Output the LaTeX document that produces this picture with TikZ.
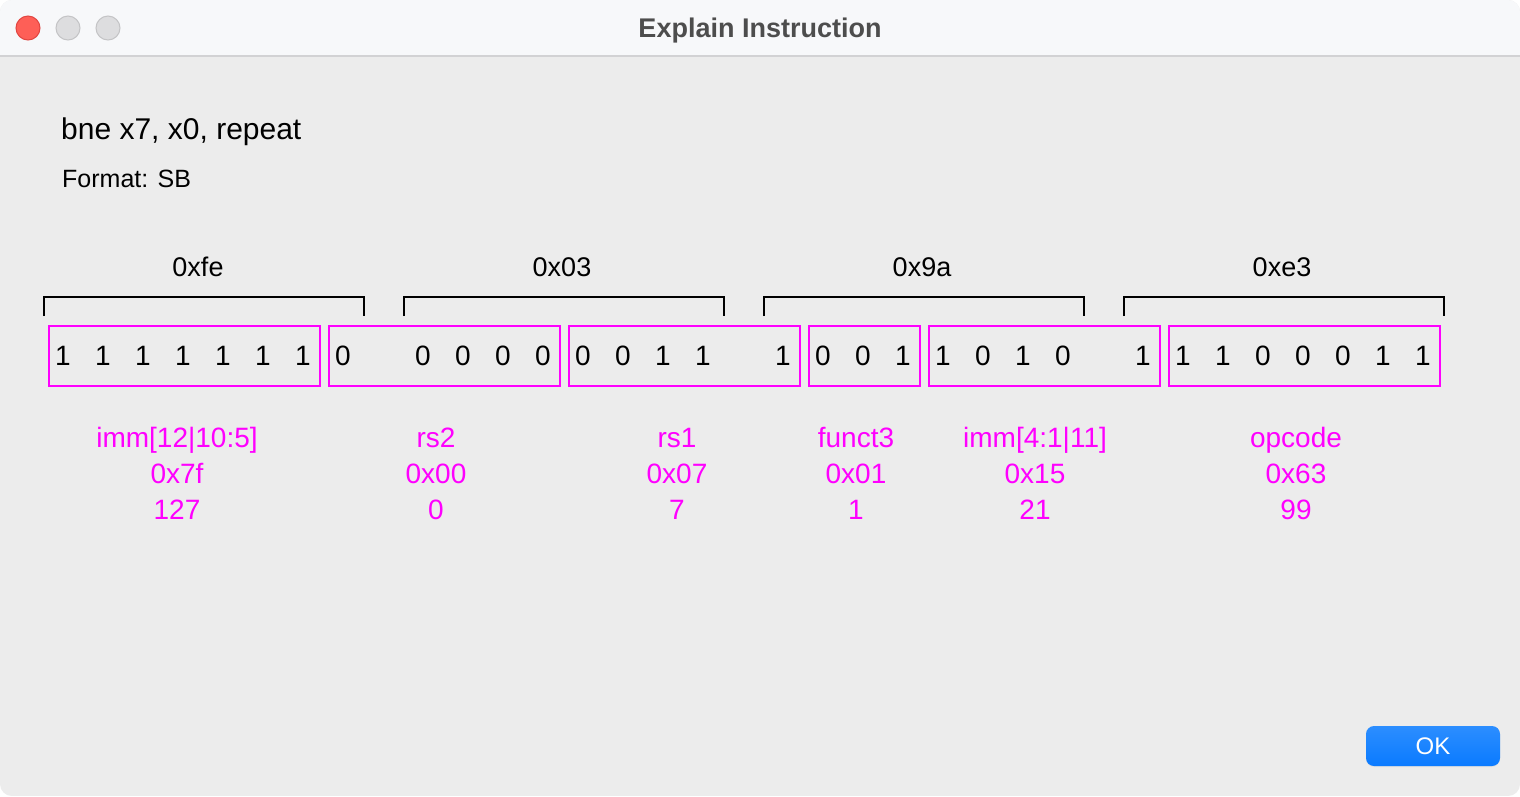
\documentclass[tikz,border=0pt]{standalone}
\usepackage{fontspec}
\setmainfont{Liberation Sans}
\definecolor{mag}{RGB}{255,0,255}
\definecolor{bodybg}{RGB}{236,236,236}
\definecolor{titlebg}{RGB}{247,248,250}
\definecolor{sepcol}{RGB}{210,210,212}
\definecolor{titletext}{RGB}{77,77,77}
\definecolor{redlight}{RGB}{254,95,87}
\definecolor{redborder}{RGB}{225,70,65}
\definecolor{graylight}{RGB}{221,221,223}
\definecolor{grayborder}{RGB}{196,196,198}
\definecolor{btntop}{RGB}{44,142,255}
\definecolor{btnbot}{RGB}{10,122,255}
\tikzset{
  light/.style={circle, minimum size=24pt, inner sep=0pt, line width=1pt},
  bitdigit/.style={anchor=base, inner sep=0pt, font=\fontsize{28}{34}\selectfont},
  fieldbox/.style={draw=mag, line width=2.5pt, inner sep=0pt, outer sep=0pt, minimum height=60pt},
  bytelabel/.style={anchor=base, inner sep=0pt, font=\fontsize{27}{33}\selectfont},
  fieldlabel/.style={anchor=base, inner sep=0pt, text=mag, font=\fontsize{28}{34}\selectfont},
  bracketline/.style={draw=black, line width=2pt},
  okbtn/.style={rounded corners=8pt, top color=btntop, bottom color=btnbot, minimum width=134pt, minimum height=40pt, inner sep=0pt, text=white, font=\fontsize{24}{28}\selectfont}
}
\begin{document}
\begin{tikzpicture}[x=1pt,y=-1pt]
\useasboundingbox (0,0) rectangle (1520,796);
\fill[white] (0,0) rectangle (1520,796);
\begin{scope}
  \clip[rounded corners=12pt] (0,0) rectangle (1520,796);
  \fill[bodybg] (0,0) rectangle (1520,796);
  \fill[titlebg] (0,0) rectangle (1520,56);
  \draw[sepcol, line width=1.5pt] (0,56) -- (1520,56);
\end{scope}
% traffic lights
\node[light, fill=redlight, draw=redborder] (close) at (28,28) {};
\node[light, fill=graylight, draw=grayborder] (minimize) at (68,28) {};
\node[light, fill=graylight, draw=grayborder] (zoom) at (108,28) {};
% title
\node[anchor=base, inner sep=0pt, text=titletext, font=\fontsize{27}{32}\selectfont\bfseries] (title) at (760,37) {Explain Instruction};
% header texts
\node[anchor=base west, inner sep=0pt, font=\fontsize{30}{36}\selectfont] (instr) at (61,139) {bne x7, x0, repeat};
\node[anchor=base west, inner sep=0pt, font=\fontsize{25}{30}\selectfont] (fmt) at (62,187) {Format: SB};
% byte brackets and labels
\foreach \j/\lbl/\lx in {0/0xfe/198, 1/0x03/562, 2/0x9a/922, 3/0xe3/1282} {
  \draw[bracketline] (44+360*\j,316) -- (44+360*\j,297) -- (364+360*\j,297) -- (364+360*\j,316);
  \node[bytelabel] (byte\j) at (\lx,276) {\lbl};
}
% field boxes
\foreach \n/\sa/\sb in {1/0/6, 2/7/12, 3/13/18, 4/19/21, 5/22/27, 6/28/34} {
  \pgfmathsetmacro{\L}{49+40*\sa}
  \pgfmathsetmacro{\R}{80+40*\sb}
  \pgfmathsetmacro{\W}{\R-\L}
  \pgfmathsetmacro{\C}{(\L+\R)/2}
  \node[fieldbox, minimum width=\W pt] (box\n) at (\C,356) {};
}
% bit digits
\foreach \k/\v in {0/1,1/1,2/1,3/1,4/1,5/1,6/1,7/0,9/0,10/0,11/0,12/0,13/0,14/0,15/1,16/1,18/1,19/0,20/0,21/1,22/1,23/0,24/1,25/0,27/1,28/1,29/1,30/0,31/0,32/0,33/1,34/1} {
  \node[bitdigit] (bit\k) at (63+40*\k,365) {\v};
}
% field labels
\foreach \n/\x/\name/\hex/\dec in {1/177/{imm[12|10:5]}/0x7f/127, 2/436/rs2/0x00/0, 3/677/rs1/0x07/7, 4/856/funct3/0x01/1, 5/1035/{imm[4:1|11]}/0x15/21, 6/1296/opcode/0x63/99} {
  \node[fieldlabel] (name\n) at (\x,447) {\name};
  \node[fieldlabel] (hex\n) at (\x,483) {\hex};
  \node[fieldlabel] (dec\n) at (\x,519) {\dec};
}
% OK button
\fill[black!12, rounded corners=8pt] (1366,727) rectangle (1500,767);
\node[okbtn] (ok) at (1433,746) {OK};
\end{tikzpicture}
\end{document}
